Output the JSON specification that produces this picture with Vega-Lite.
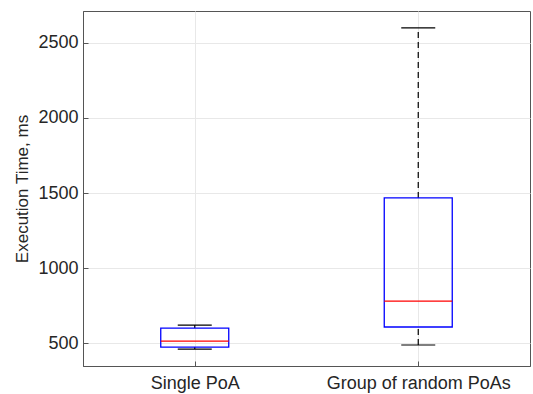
{
  "$schema": "https://vega.github.io/schema/vega-lite/v6.json",
  "autosize": "none",
  "width": 447,
  "height": 355,
  "padding": {"left": 83, "top": 11, "right": 3, "bottom": 28},
  "background": "white",
  "config": {
    "view": {"stroke": "#555555", "strokeWidth": 1},
    "font": "Liberation Sans",
    "axis": {
      "labelFont": "Liberation Sans",
      "titleFont": "Liberation Sans",
      "labelFontSize": 18,
      "titleFontSize": 17,
      "titleFontWeight": "normal",
      "labelColor": "#262626",
      "titleColor": "#262626",
      "labelLimit": 0,
      "gridColor": "#e8e8e8",
      "gridOpacity": 1,
      "domainColor": "#555555",
      "tickColor": "#555555"
    }
  },
  "data": {
    "values": [
      {"group": "Single PoA", "min": 460, "q1": 473, "median": 513, "q3": 600, "max": 620},
      {"group": "Group of random PoAs", "min": 487, "q1": 607, "median": 780, "q3": 1467, "max": 2600}
    ]
  },
  "encoding": {
    "x": {
      "field": "group",
      "type": "nominal",
      "sort": ["Single PoA", "Group of random PoAs"],
      "scale": {"type": "point", "padding": 0.5},
      "axis": {"title": null, "labelAngle": 0, "labelOverlap": false, "labelLimit": 0, "grid": true, "tickSize": -5, "labelPadding": 13}
    }
  },
  "layer": [
    {
      "mark": {"type": "rule", "color": "black", "strokeDash": [6, 4], "strokeWidth": 1.2},
      "encoding": {
        "y": {
          "field": "q3",
          "type": "quantitative",
          "scale": {"domain": [347, 2713], "nice": false, "zero": false},
          "axis": {"title": "Execution Time, ms", "values": [500, 1000, 1500, 2000, 2500], "format": "d", "tickSize": -5, "labelPadding": 10, "titlePadding": 6, "grid": true}
        },
        "y2": {"field": "max"}
      }
    },
    {
      "mark": {"type": "rule", "color": "black", "strokeDash": [6, 4], "strokeWidth": 1.2},
      "encoding": {
        "y": {"field": "min", "type": "quantitative"},
        "y2": {"field": "q1"}
      }
    },
    {
      "mark": {"type": "tick", "color": "black", "size": 34, "thickness": 1.2, "opacity": 1},
      "encoding": {"y": {"field": "max", "type": "quantitative"}}
    },
    {
      "mark": {"type": "tick", "color": "black", "size": 34, "thickness": 1.2, "opacity": 1},
      "encoding": {"y": {"field": "min", "type": "quantitative"}}
    },
    {
      "mark": {"type": "bar", "size": 68, "fill": "white", "fillOpacity": 0, "stroke": "#0000ff", "strokeWidth": 1.3},
      "encoding": {
        "y": {"field": "q1", "type": "quantitative"},
        "y2": {"field": "q3"}
      }
    },
    {
      "mark": {"type": "tick", "color": "#ff0000", "size": 68, "thickness": 1.2, "opacity": 1},
      "encoding": {"y": {"field": "median", "type": "quantitative"}}
    }
  ]
}
